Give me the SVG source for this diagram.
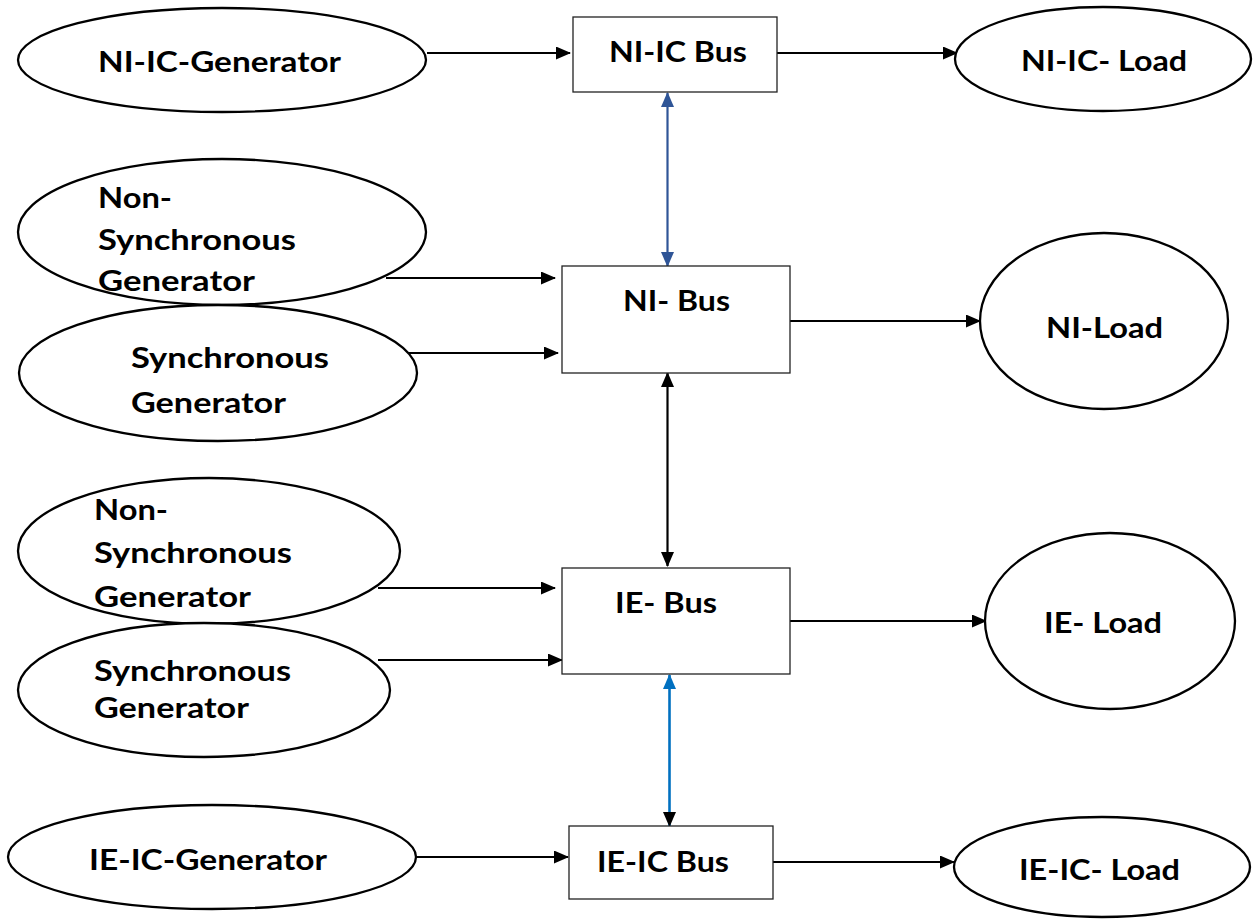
<svg xmlns="http://www.w3.org/2000/svg" width="1253" height="919" viewBox="0 0 1253 919">
<style>
.ell{fill:#fff;stroke:#000;stroke-width:2.3}
.box{fill:#fff;stroke:#222;stroke-width:1.3}
.t{font-family:Lato,"Open Sans","Liberation Sans",sans-serif;font-weight:bold;font-size:29px;fill:#000}
.c{fill:none;stroke:#000;stroke-width:2.2}
</style>
<defs>
<marker id="ah" markerUnits="userSpaceOnUse" markerWidth="15" markerHeight="13" refX="14" refY="6.5" orient="auto-start-reverse"><path d="M0,0 L15,6.5 L0,13 z" fill="#000"/></marker>
<marker id="ahb1" markerUnits="userSpaceOnUse" markerWidth="15" markerHeight="13" refX="14" refY="6.5" orient="auto-start-reverse"><path d="M0,0 L15,6.5 L0,13 z" fill="#2F5597"/></marker>
<marker id="ahb2" markerUnits="userSpaceOnUse" markerWidth="15" markerHeight="13" refX="14" refY="6.5" orient="auto-start-reverse"><path d="M0,0 L15,6.5 L0,13 z" fill="#0070C0"/></marker>
</defs>
<rect width="1253" height="919" fill="#fff"/>
<g id="connectors">
<line class="c" x1="427" y1="53" x2="570" y2="53" marker-end="url(#ah)"/>
<line class="c" x1="777" y1="53" x2="957" y2="53" marker-end="url(#ah)"/>
<line x1="667.5" y1="93" x2="667.5" y2="266" stroke="#2F5597" stroke-width="2.2" marker-start="url(#ahb1)" marker-end="url(#ahb1)"/>
<line class="c" x1="386" y1="278" x2="555" y2="278" marker-end="url(#ah)"/>
<line class="c" x1="408" y1="353" x2="558" y2="353" marker-end="url(#ah)"/>
<line class="c" x1="790" y1="321" x2="980" y2="321" marker-end="url(#ah)"/>
<line class="c" x1="667.5" y1="373" x2="667.5" y2="566" marker-start="url(#ah)" marker-end="url(#ah)"/>
<line class="c" x1="378" y1="588" x2="555" y2="588" marker-end="url(#ah)"/>
<line class="c" x1="378" y1="660" x2="562" y2="660" marker-end="url(#ah)"/>
<line class="c" x1="790" y1="621" x2="986" y2="621" marker-end="url(#ah)"/>
<line x1="669.5" y1="675" x2="669.5" y2="826" stroke="#0070C0" stroke-width="2.6" marker-start="url(#ahb2)" marker-end="url(#ah)"/>
<line class="c" x1="416" y1="857" x2="568" y2="857" marker-end="url(#ah)"/>
<line class="c" x1="773" y1="862" x2="954" y2="862" marker-end="url(#ah)"/>
</g>
<g id="ni-ic-generator"><ellipse class="ell" cx="222" cy="60" rx="204" ry="52"/><text class="t" x="98" y="72" textLength="243" lengthAdjust="spacingAndGlyphs">NI-IC-Generator</text></g>
<g id="ni-ic-bus"><rect class="box" x="573" y="17" width="204" height="75"/><text class="t" x="609" y="62" textLength="138" lengthAdjust="spacingAndGlyphs">NI-IC Bus</text></g>
<g id="ni-ic-load"><ellipse class="ell" cx="1103" cy="59" rx="148" ry="52"/><text class="t" x="1021" y="71" textLength="166" lengthAdjust="spacingAndGlyphs">NI-IC- Load</text></g>
<g id="non-sync-gen-1"><ellipse class="ell" cx="222" cy="232" rx="204" ry="73"/>
<text class="t" x="98" y="208" textLength="74" lengthAdjust="spacingAndGlyphs">Non-</text>
<text class="t" x="98" y="250" textLength="198" lengthAdjust="spacingAndGlyphs">Synchronous</text>
<text class="t" x="98" y="291" textLength="157" lengthAdjust="spacingAndGlyphs">Generator</text></g>
<g id="sync-gen-1"><ellipse class="ell" cx="218" cy="373" rx="199" ry="68"/>
<text class="t" x="131" y="368" textLength="198" lengthAdjust="spacingAndGlyphs">Synchronous</text>
<text class="t" x="131" y="413" textLength="155" lengthAdjust="spacingAndGlyphs">Generator</text></g>
<g id="ni-bus"><rect class="box" x="562" y="266" width="228" height="107"/><text class="t" x="623" y="311" textLength="107" lengthAdjust="spacingAndGlyphs">NI- Bus</text></g>
<g id="ni-load"><ellipse class="ell" cx="1104" cy="321" rx="124" ry="88"/><text class="t" x="1046" y="338" textLength="117" lengthAdjust="spacingAndGlyphs">NI-Load</text></g>
<g id="non-sync-gen-2"><ellipse class="ell" cx="209" cy="551" rx="191" ry="73"/>
<text class="t" x="94" y="520" textLength="74" lengthAdjust="spacingAndGlyphs">Non-</text>
<text class="t" x="94" y="563" textLength="198" lengthAdjust="spacingAndGlyphs">Synchronous</text>
<text class="t" x="94" y="607" textLength="157" lengthAdjust="spacingAndGlyphs">Generator</text></g>
<g id="sync-gen-2"><ellipse class="ell" cx="204" cy="690" rx="186" ry="67"/>
<text class="t" x="94" y="681" textLength="197" lengthAdjust="spacingAndGlyphs">Synchronous</text>
<text class="t" x="94" y="718" textLength="155" lengthAdjust="spacingAndGlyphs">Generator</text></g>
<g id="ie-bus"><rect class="box" x="562" y="568" width="228" height="106"/><text class="t" x="615" y="613" textLength="102" lengthAdjust="spacingAndGlyphs">IE- Bus</text></g>
<g id="ie-load"><ellipse class="ell" cx="1110" cy="621" rx="125" ry="88"/><text class="t" x="1044" y="633" textLength="118" lengthAdjust="spacingAndGlyphs">IE- Load</text></g>
<g id="ie-ic-generator"><ellipse class="ell" cx="212" cy="857" rx="204" ry="52"/><text class="t" x="89" y="870" textLength="238" lengthAdjust="spacingAndGlyphs">IE-IC-Generator</text></g>
<g id="ie-ic-bus"><rect class="box" x="569" y="826" width="204" height="73"/><text class="t" x="597" y="872" textLength="132" lengthAdjust="spacingAndGlyphs">IE-IC Bus</text></g>
<g id="ie-ic-load"><ellipse class="ell" cx="1102" cy="867" rx="148" ry="50"/><text class="t" x="1019" y="880" textLength="161" lengthAdjust="spacingAndGlyphs">IE-IC- Load</text></g>
</svg>
